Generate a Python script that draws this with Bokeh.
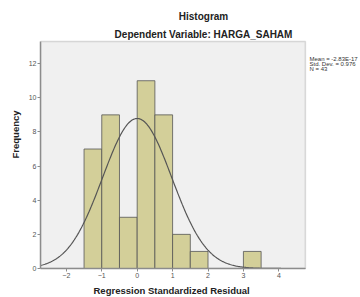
import numpy as np
from bokeh.plotting import figure
from bokeh.models import Range1d, Label, FixedTicker, ColumnDataSource, BoxAnnotation, Title
from bokeh.embed import file_html
from bokeh.resources import INLINE

# Data
bin_left = [-1.5, -1.0, -0.5, 0.0, 0.5, 1.0, 1.5, 3.0]
bin_right = [-1.0, -0.5, 0.0, 0.5, 1.0, 1.5, 2.0, 3.5]
counts = [7, 9, 3, 11, 9, 2, 1, 1]
mean_val = -2.83e-17
std_dev = 0.976
n_obs = 43
bin_width = 0.5
x_ticks = [-2, -1, 0, 1, 2, 3, 4]
y_ticks = [0, 2, 4, 6, 8, 10, 12]

# plot-area extent (the gray box) and outer extent for titles / stats text
x_min, x_max = -2.73, 4.75
y_min, y_max = 0.0, 13.3
x_outer, y_outer = 6.306, 15.70

FONT = "Liberation Sans"

p = figure(width=360, height=297, output_backend="svg", toolbar_location=None,
           x_range=Range1d(x_min, x_outer), y_range=Range1d(y_min, y_outer),
           min_border_left=40, min_border_right=0, min_border_top=0, min_border_bottom=29)
p.background_fill_color = "white"
p.border_fill_color = "white"
p.outline_line_color = None
p.grid.visible = False

p.add_layout(BoxAnnotation(left=x_min, right=x_max, bottom=y_min, top=y_max,
                           fill_color="#f0f0f0", fill_alpha=1.0,
                           line_color="#8c8c8c", line_width=1.5, level="underlay"))

src = ColumnDataSource(dict(left=bin_left, right=bin_right, top=counts))
p.quad(left="left", right="right", bottom=0, top="top", source=src,
       fill_color="#d3cf99", line_color="#555555", line_width=0.8)

xs = np.linspace(x_min, x_max, 300)
ys = n_obs * bin_width / (std_dev * np.sqrt(2 * np.pi)) * np.exp(-0.5 * ((xs - mean_val) / std_dev) ** 2)
p.line(xs, ys, line_color="#555555", line_width=1.2)

for ax in (p.xaxis[0], p.yaxis[0]):
    ax.axis_line_color = "#8c8c8c"
    ax.axis_line_width = 1.5
    ax.major_tick_line_color = "#8c8c8c"
    ax.major_tick_out = 3
    ax.major_tick_in = 0
    ax.minor_tick_line_color = None
    ax.major_label_text_font = FONT
    ax.major_label_text_font_size = "7px"
    ax.major_label_text_color = "#555555"
    ax.major_label_standoff = 1
    ax.axis_label_text_font = FONT
    ax.axis_label_text_font_size = "9.5px"
    ax.axis_label_text_font_style = "bold"
    ax.axis_label_text_color = "#222222"

p.xaxis.ticker = FixedTicker(ticks=x_ticks)
p.yaxis.ticker = FixedTicker(ticks=y_ticks)
p.xaxis.bounds = (x_min, x_max)
p.yaxis.bounds = (y_min, y_max)
p.yaxis.axis_label = "Frequency"
p.yaxis.axis_label_standoff = 5

# x-axis title placed below the axis, centred under the gray box
p.add_layout(Title(text="Regression Standardized Residual", align="left", offset=53,
                   standoff=4, text_font=FONT, text_font_size="9.5px",
                   text_font_style="bold", text_color="#222222"), "below")

p.add_layout(Label(x=163, y=252, x_units="screen", y_units="screen", text="Histogram",
                   text_font=FONT, text_font_size="10px", text_font_style="bold",
                   text_align="center", text_baseline="middle", text_color="#222222"))
p.add_layout(Label(x=163, y=234, x_units="screen", y_units="screen",
                   text="Dependent Variable: HARGA_SAHAM",
                   text_font=FONT, text_font_size="10px", text_font_style="bold",
                   text_align="center", text_baseline="middle", text_color="#222222"))
stats = ["Mean = -2.83E-17", "Std. Dev. = 0.976", "N = %d" % n_obs]
for i, s in enumerate(stats):
    p.add_layout(Label(x=269, y=210 - 5 * i, x_units="screen", y_units="screen", text=s,
                       text_font=FONT, text_font_size="6px", text_align="left",
                       text_baseline="middle", text_color="#333333"))

open("out.html", "w").write(file_html(p, INLINE))
